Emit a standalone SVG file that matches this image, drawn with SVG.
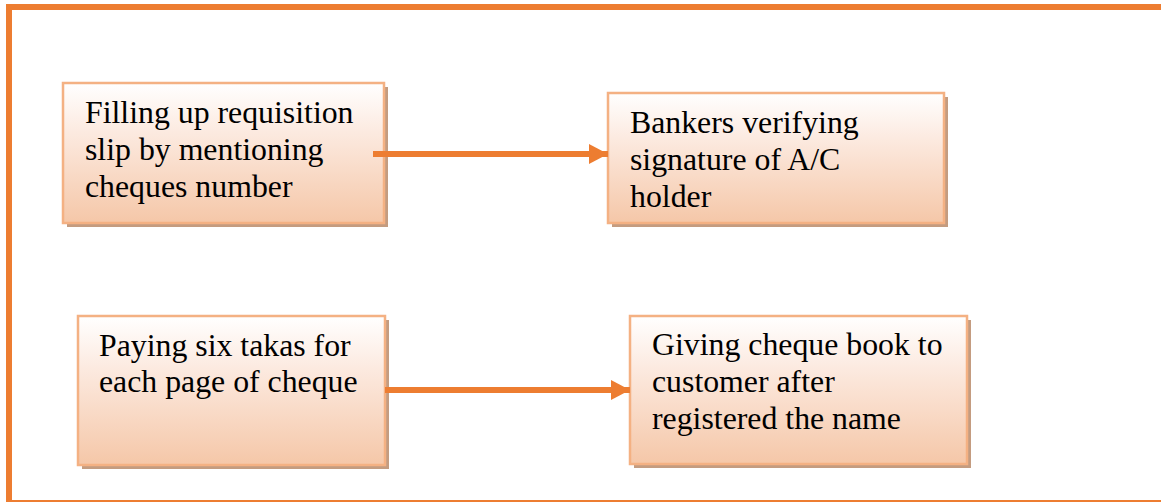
<svg xmlns="http://www.w3.org/2000/svg" width="1161" height="502" viewBox="0 0 1161 502">
  <defs>
    <linearGradient id="boxFill" x1="0" y1="0" x2="0" y2="1">
      <stop offset="0" stop-color="#FFFFFF"/>
      <stop offset="0.35" stop-color="#FCEAE0"/>
      <stop offset="1" stop-color="#F5C7A8"/>
    </linearGradient>
    <marker id="arrowHead" markerUnits="userSpaceOnUse" markerWidth="20" markerHeight="20" refX="19" refY="10" orient="auto">
      <path d="M0,0 L19,10 L0,20 Z" fill="#ED7D31"/>
    </marker>
  </defs>
  <style>
    .frame { fill: none; stroke: #ED7D31; stroke-width: 6; }
    .shadow { fill: #C49C80; }
    .box { fill: url(#boxFill); stroke: #F4B183; stroke-width: 2.5; }
    .label { font-family: "Liberation Serif", "Times New Roman", serif; font-size: 31.8px; fill: #000000; }
    .conn { stroke: #ED7D31; stroke-width: 6; fill: none; marker-end: url(#arrowHead); }
  </style>

  <rect width="1161" height="502" fill="#FFFFFF"/>

  <!-- outer frame -->
  <rect class="frame" x="9" y="7" width="1180" height="496"/>

  <!-- requisition slip -->
  <g id="node-requisition">
    <rect class="shadow" x="67" y="87" width="321" height="140"/>
    <rect class="box" x="63" y="83" width="321" height="140"/>
    <text class="label" x="85" y="123">Filling up requisition</text>
    <text class="label" x="85" y="160">slip by mentioning</text>
    <text class="label" x="85" y="197">cheques number</text>
  </g>

  <!-- signature verification -->
  <g id="node-verify">
    <rect class="shadow" x="612" y="97" width="336" height="130"/>
    <rect class="box" x="608" y="93" width="336" height="130"/>
    <text class="label" x="630" y="133">Bankers verifying</text>
    <text class="label" x="630" y="170">signature of A/C</text>
    <text class="label" x="630" y="207">holder</text>
  </g>

  <!-- payment -->
  <g id="node-payment">
    <rect class="shadow" x="82" y="320" width="307" height="149"/>
    <rect class="box" x="78" y="316" width="307" height="149"/>
    <text class="label" x="99" y="356">Paying six takas for</text>
    <text class="label" x="99" y="392">each page of cheque</text>
  </g>

  <!-- cheque book delivery -->
  <g id="node-delivery">
    <rect class="shadow" x="634" y="320" width="337" height="148"/>
    <rect class="box" x="630" y="316" width="337" height="148"/>
    <text class="label" x="652" y="355">Giving cheque book to</text>
    <text class="label" x="652" y="392">customer after</text>
    <text class="label" x="652" y="429">registered the name</text>
  </g>

  <!-- connectors -->
  <g id="connectors">
    <line class="conn" x1="373" y1="154" x2="608" y2="154"/>
    <line class="conn" x1="385" y1="390" x2="630" y2="390"/>
  </g>
</svg>
